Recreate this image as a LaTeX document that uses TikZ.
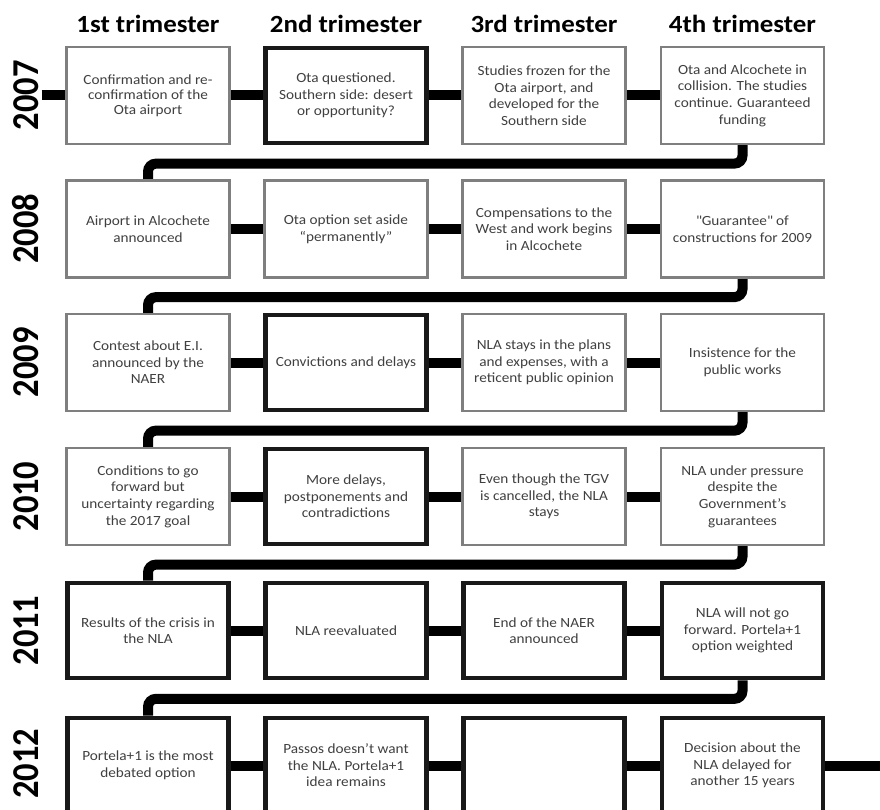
\documentclass[tikz,border=0pt]{standalone}
\usepackage{graphicx}
\usepackage{fontspec}
\setmainfont{Carlito}[FakeStretch=1.09]
\newfontfamily\yearfont{Carlito}
\newcommand\straightq{\XeTeXglyph\XeTeXcharglyph"22\relax}
\usetikzlibrary{backgrounds}
\definecolor{boxgray}{HTML}{7F7F7F}
\definecolor{txtgray}{HTML}{404040}
\begin{document}
\begin{tikzpicture}[x=1pt,y=-1pt,
  evt/.style={draw=boxgray, line width=2.2pt, fill=white, minimum width=163pt,
    minimum height=97pt, inner sep=2pt, align=center, text=txtgray,
    font=\fontsize{14}{16.6}\selectfont},
  evtkey/.style={evt, draw=black!90, line width=4.6pt, minimum width=161pt, minimum height=95pt},
  conn/.style={line width=10pt, draw=black},
  ret/.style={conn, rounded corners=8pt},
  head/.style={font=\fontsize{24.7}{28}\selectfont\bfseries, anchor=base, text=black},
  yr/.style={rotate=90, font=\yearfont\fontsize{34.5}{36}\selectfont\bfseries, text=black}
]
\useasboundingbox (0,0) rectangle (880,810);

% headers
\node[head] (h1) at (148,32.5) {1st trimester};
\node[head] (h2) at (346,32.5) {2nd trimester};
\node[head] (h3) at (544,32.5) {3rd trimester};
\node[head] (h4) at (742.5,32.5) {4th trimester};

% years
\node[yr] (y1) at (26,95.5) {\scalebox{1}[1.1]{2007}};
\node[yr] (y2) at (26,229) {\scalebox{1}[1.1]{2008}};
\node[yr] (y3) at (26,362.5) {\scalebox{1}[1.1]{2009}};
\node[yr] (y4) at (26,496.5) {\scalebox{1}[1.1]{2010}};
\node[yr] (y5) at (26,630.5) {\scalebox{1}[1.1]{2011}};
\node[yr] (y6) at (26,764) {\scalebox{1}[1.1]{2012}};

% 2007
\node[evt, font=\fontsize{14}{15}\selectfont] (b11) at (148,95.5) {Confirmation and re-\\confirmation of the\\Ota airport};
\node[evtkey] (b12) at (346,95.5) {Ota questioned.\\Southern side: desert\\or opportunity?};
\node[evt] (b13) at (544,95.5) {Studies frozen for the\\Ota airport, and\\developed for the\\Southern side};
\node[evt] (b14) at (742.5,95.5) {Ota and Alcochete in\\collision. The studies\\continue. Guaranteed\\funding};

% 2008
\node[evt] (b21) at (148,229) {Airport in Alcochete\\announced};
\node[evt] (b22) at (346,229) {Ota option set aside\\“permanently”};
\node[evt] (b23) at (544,229) {Compensations to the\\West and work begins\\in Alcochete};
\node[evt] (b24) at (742.5,229) {\straightq Guarantee\straightq{} of\\constructions for 2009};

% 2009
\node[evt] (b31) at (148,362.5) {Contest about E.I.\\announced by the\\NAER};
\node[evtkey] (b32) at (346,362.5) {Convictions and delays};
\node[evt] (b33) at (544,362.5) {NLA stays in the plans\\and expenses, with a\\reticent public opinion};
\node[evt] (b34) at (742.5,362.5) {Insistence for the\\public works};

% 2010
\node[evt] (b41) at (148,496.5) {Conditions to go\\forward but\\uncertainty regarding\\the 2017 goal};
\node[evtkey] (b42) at (346,496.5) {More delays,\\postponements and\\contradictions};
\node[evt] (b43) at (544,496.5) {Even though the TGV\\is cancelled, the NLA\\stays};
\node[evt] (b44) at (742.5,496.5) {NLA under pressure\\despite the\\Government’s\\guarantees};

% 2011
\node[evtkey] (b51) at (148,630.5) {Results of the crisis in\\the NLA};
\node[evtkey] (b52) at (346,630.5) {NLA reevaluated};
\node[evtkey] (b53) at (544,630.5) {End of the NAER\\announced};
\node[evtkey] (b54) at (742.5,630.5) {NLA will not go\\forward. Portela+1\\option weighted};

% 2012
\node[evtkey] (b61) at (148,765.5) {Portela+1 is the most\\debated option};
\node[evtkey] (b62) at (346,765.5) {Passos doesn’t want\\the NLA. Portela+1\\idea remains};
\node[evtkey] (b63) at (544,765.5) {};
\node[evtkey] (b64) at (742.5,765.5) {Decision about the\\NLA delayed for\\another 15 years};

\coordinate (start) at (41.5,95.5);
\coordinate (finish) at (882,765.5);

\begin{scope}[on background layer]
\draw[conn] (start) -- (b11);
\draw[conn] (b11) -- (b12);
\draw[conn] (b12) -- (b13);
\draw[conn] (b13) -- (b14);
\draw[ret] (b14.south) -- ++(0,18.5) -| (b21.north);
\draw[conn] (b21) -- (b22);
\draw[conn] (b22) -- (b23);
\draw[conn] (b23) -- (b24);
\draw[ret] (b24.south) -- ++(0,18.5) -| (b31.north);
\draw[conn] (b31) -- (b32);
\draw[conn] (b32) -- (b33);
\draw[conn] (b33) -- (b34);
\draw[ret] (b34.south) -- ++(0,18.5) -| (b41.north);
\draw[conn] (b41) -- (b42);
\draw[conn] (b42) -- (b43);
\draw[conn] (b43) -- (b44);
\draw[ret] (b44.south) -- ++(0,18.5) -| (b51.north);
\draw[conn] (b51) -- (b52);
\draw[conn] (b52) -- (b53);
\draw[conn] (b53) -- (b54);
\draw[ret] (b54.south) -- ++(0,18.5) -| (b61.north);
\draw[conn] (b61) -- (b62);
\draw[conn] (b62) -- (b63);
\draw[conn] (b63) -- (b64);
\draw[conn] (b64) -- (finish);
\end{scope}
\end{tikzpicture}
\end{document}
